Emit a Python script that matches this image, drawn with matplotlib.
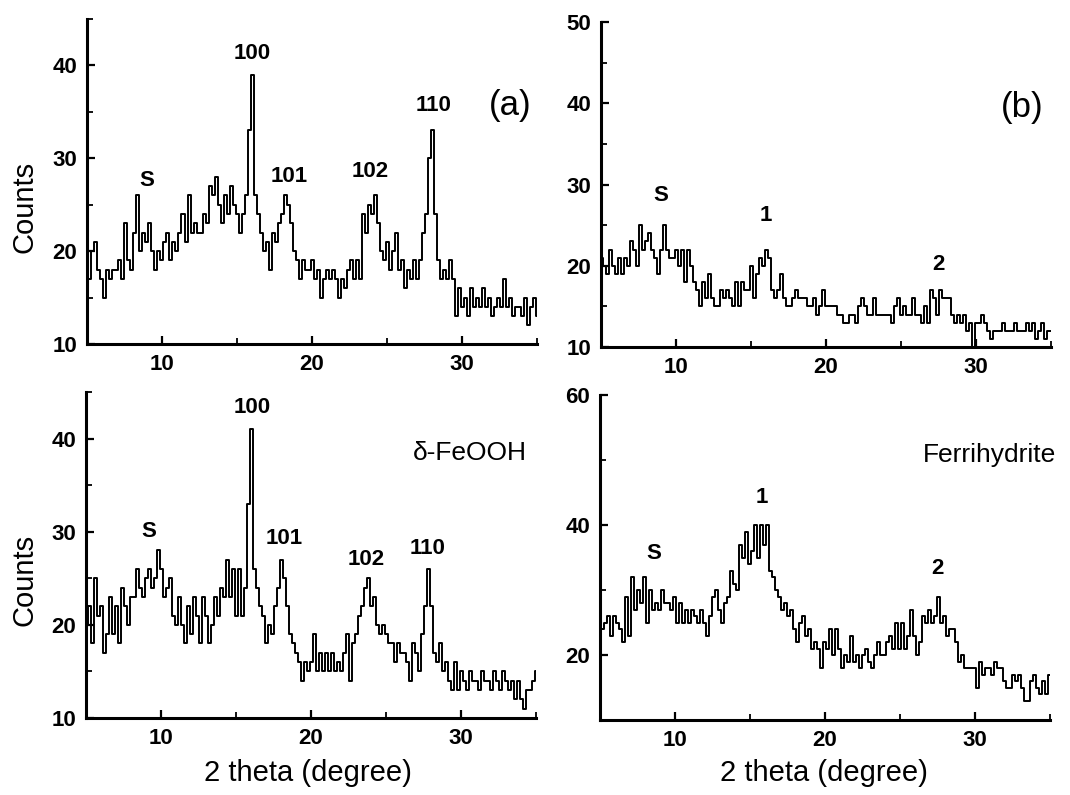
import numpy as np
import matplotlib
matplotlib.use("Agg")
import matplotlib.pyplot as plt
from matplotlib.ticker import MultipleLocator

plt.rcParams['font.family'] = ['Liberation Sans', 'DejaVu Sans']

# counts, 2theta from 5 to 35 deg, 0.2 deg step
counts_a = [19, 17, 20, 21, 18, 17, 15, 18, 17, 18, 18, 19, 17, 23, 19, 18, 22, 26, 20, 22,
            21, 23, 20, 18, 20, 19, 21, 22, 19, 21, 20, 22, 24, 21, 26, 22, 23, 22, 22, 24,
            23, 27, 26, 28, 25, 23, 26, 24, 27, 25, 24, 22, 24, 26, 33, 39, 26, 24, 22, 20,
            21, 18, 22, 21, 23, 24, 26, 25, 23, 20, 19, 17, 19, 18, 18, 19, 17, 18, 15, 17,
            18, 17, 18, 17, 15, 17, 16, 18, 19, 17, 19, 17, 24, 22, 25, 24, 26, 23, 20, 19,
            21, 18, 20, 22, 18, 19, 16, 18, 17, 19, 17, 19, 22, 24, 30, 33, 24, 19, 17, 18,
            17, 19, 17, 13, 16, 14, 15, 13, 16, 14, 15, 14, 16, 14, 15, 13, 14, 15, 14, 17,
            14, 15, 13, 14, 14, 13, 15, 12, 14, 15, 13]

counts_b = [21, 20, 19, 22, 20, 19, 21, 19, 21, 20, 23, 22, 20, 25, 22, 23, 24, 22, 21, 19,
            22, 25, 22, 21, 21, 22, 20, 22, 18, 22, 20, 18, 17, 15, 18, 16, 19, 16, 15, 15,
            17, 16, 17, 16, 15, 18, 15, 18, 17, 17, 20, 16, 19, 21, 20, 22, 21, 17, 16, 17,
            19, 16, 15, 15, 16, 17, 16, 16, 16, 15, 15, 16, 14, 15, 17, 15, 15, 15, 15, 14,
            14, 13, 13, 14, 14, 13, 15, 16, 15, 14, 14, 16, 14, 14, 14, 14, 14, 13, 15, 16,
            14, 15, 14, 14, 16, 14, 14, 13, 15, 13, 17, 16, 14, 17, 16, 16, 16, 14, 13, 14,
            13, 14, 12, 13, 10, 13, 13, 14, 13, 12, 11, 12, 12, 12, 13, 12, 12, 12, 13, 12,
            12, 12, 13, 12, 13, 11, 12, 13, 11, 12, 12]

counts_c = [20, 22, 18, 25, 21, 22, 17, 19, 23, 19, 22, 18, 24, 22, 20, 23, 23, 26, 24, 23,
            25, 26, 24, 25, 28, 26, 23, 24, 25, 21, 20, 23, 20, 18, 22, 19, 23, 21, 18, 23,
            21, 18, 20, 23, 21, 24, 23, 27, 23, 26, 21, 26, 21, 24, 33, 41, 26, 24, 22, 21,
            18, 20, 19, 22, 24, 27, 25, 22, 19, 18, 17, 16, 14, 16, 15, 16, 19, 15, 17, 15,
            17, 15, 17, 15, 16, 15, 17, 19, 14, 18, 19, 21, 22, 24, 25, 22, 23, 20, 19, 20,
            19, 18, 18, 16, 18, 17, 17, 16, 14, 18, 17, 15, 19, 22, 26, 22, 17, 16, 18, 15,
            16, 14, 13, 16, 13, 15, 14, 13, 15, 14, 14, 13, 15, 14, 14, 13, 15, 14, 13, 15,
            14, 13, 14, 12, 14, 12, 11, 13, 13, 14, 15]

counts_d = [25, 24, 25, 26, 23, 26, 25, 24, 22, 29, 23, 32, 27, 30, 28, 32, 25, 30, 27, 28,
            27, 30, 28, 28, 27, 29, 25, 28, 25, 27, 25, 27, 26, 25, 27, 25, 23, 26, 29, 30,
            27, 25, 28, 29, 33, 31, 30, 37, 35, 39, 34, 36, 40, 35, 40, 37, 40, 33, 32, 30,
            29, 27, 28, 26, 27, 24, 22, 25, 26, 23, 24, 21, 22, 21, 18, 22, 21, 24, 20, 24,
            21, 18, 20, 19, 23, 19, 20, 18, 20, 21, 19, 18, 20, 22, 20, 20, 22, 23, 21, 25,
            21, 25, 21, 23, 27, 23, 20, 22, 26, 25, 27, 25, 26, 29, 25, 26, 23, 24, 24, 22,
            19, 20, 18, 18, 18, 18, 15, 19, 17, 18, 18, 17, 19, 18, 18, 16, 15, 15, 17, 16,
            17, 15, 13, 13, 16, 17, 15, 14, 16, 14, 17]

# peak labels: (text, 2theta, counts)
labels_a = [("S", 9.0, 27.6), ("100", 16.0, 41.3), ("101", 18.5, 28.0),
            ("102", 23.9, 28.6), ("110", 28.1, 35.7)]
labels_b = [("S", 9.0, 28.6), ("1", 16.0, 26.2), ("2", 27.5, 20.1)]
labels_c = [("S", 9.2, 30.0), ("100", 16.1, 43.3), ("101", 18.2, 29.3),
            ("102", 23.7, 27.0), ("110", 27.8, 28.2)]
labels_d = [("S", 8.6, 35.6), ("1", 15.8, 44.2), ("2", 27.5, 33.3)]

fig = plt.figure(figsize=(10.7, 7.95), dpi=100)

panels = [
    ([0.0813, 0.5673, 0.4206, 0.4088], counts_a, (10, 45), 10, labels_a),
    ([0.5617, 0.5635, 0.4206, 0.4088], counts_b, (10, 50), 10, labels_b),
    ([0.0804, 0.0969, 0.4206, 0.4100], counts_c, (10, 45), 10, labels_c),
    ([0.5607, 0.0943, 0.4206, 0.4088], counts_d, (10, 60), 20, labels_d),
]

axes = []
for rect, counts, ylim, ystep, labels in panels:
    ax = fig.add_axes(rect)
    two_theta = np.linspace(5, 35, len(counts))
    ax.plot(two_theta, counts, color='black', lw=1.4, drawstyle='steps-mid')
    ax.set_xlim(5, 35)
    ax.set_ylim(*ylim)
    for side in ['top', 'right']:
        ax.spines[side].set_visible(False)
    for side in ['left', 'bottom']:
        ax.spines[side].set_linewidth(2.2)
    ax.xaxis.set_major_locator(MultipleLocator(10))
    ax.xaxis.set_minor_locator(MultipleLocator(5))
    ax.yaxis.set_major_locator(MultipleLocator(ystep))
    ax.yaxis.set_minor_locator(MultipleLocator(ystep / 2))
    ax.tick_params(which='major', direction='in', length=6, width=1.6, labelsize=16, pad=7)
    ax.tick_params(which='minor', direction='in', length=4, width=1.3)
    for lab in ax.get_xticklabels() + ax.get_yticklabels():
        lab.set_fontweight('bold')
    for txt, x, y in labels:
        ax.text(x, y, txt, ha='center', va='center', fontsize=16, fontweight='bold')
    axes.append(ax)

axes[0].text(33.2, 35.7, "(a)", ha='center', va='center', fontsize=25)
axes[1].text(33.1, 39.5, "(b)", ha='center', va='center', fontsize=25)
axes[2].text(30.6, 38.4, "δ-FeOOH", ha='center', va='center', fontsize=19)
axes[3].text(31.0, 50.8, "Ferrihydrite", ha='center', va='center', fontsize=19)

fig.text(25 / 1070, 1 - 207 / 795, "Counts", rotation=90, ha='center', va='center', fontsize=21)
fig.text(25 / 1070, 1 - 580 / 795, "Counts", rotation=90, ha='center', va='center', fontsize=21)
fig.text(308 / 1070, 1 - 773 / 795, "2 theta (degree)", ha='center', va='center', fontsize=21)
fig.text(824 / 1070, 1 - 773 / 795, "2 theta (degree)", ha='center', va='center', fontsize=21)

fig.savefig("out.png", dpi=100)
